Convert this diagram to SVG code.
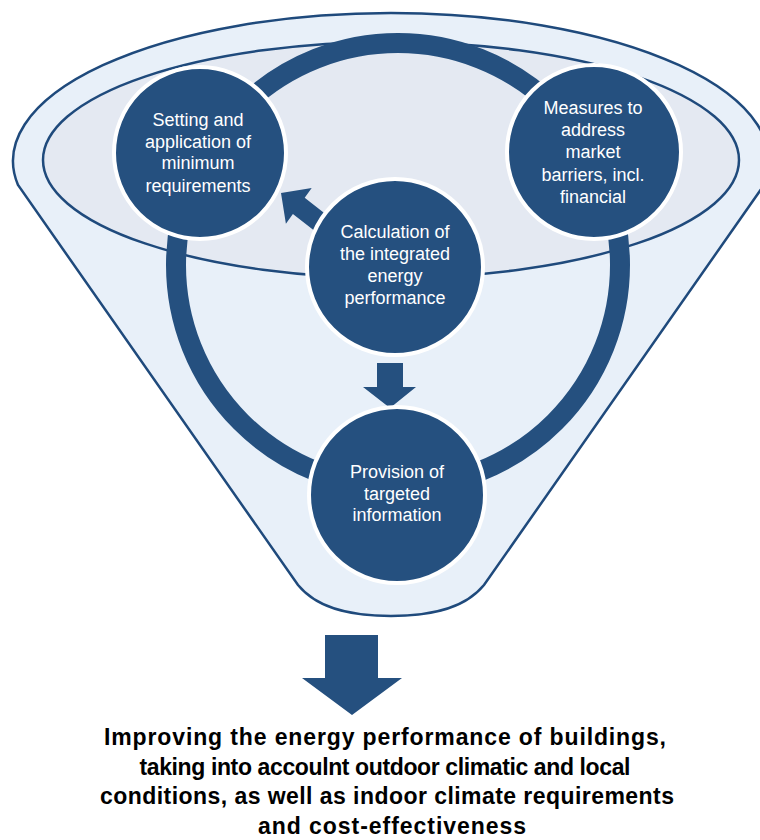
<svg xmlns="http://www.w3.org/2000/svg" width="760" height="840" viewBox="0 0 760 840">
<style>
.node{fill:#25507f;stroke:#ffffff;stroke-width:4}
.lbl{font-family:"Liberation Sans",Arial,sans-serif;font-size:18px;fill:#ffffff;text-anchor:middle}
.out{font-family:"Liberation Sans",Arial,sans-serif;font-size:23px;font-weight:bold;fill:#000000;text-anchor:middle}
.arrow{fill:#25507f}
</style>
<rect width="760" height="840" fill="#ffffff"/>
<g id="funnel">
<path d="M18,185 A378,148 0 1 1 764,185 L484,585 C462,612 422,616 391,616 C360,616 320,612 298,585 Z" fill="#e8f0f9" stroke="#1f4a7c" stroke-width="2.5"/>
<ellipse cx="391" cy="160" rx="348" ry="118" fill="#e4e9f2" stroke="#1f4a7c" stroke-width="2.5"/>
</g>
<g id="connectors">
<circle cx="398" cy="265" r="222" fill="none" stroke="#25507f" stroke-width="20"/>
<polygon class="arrow" points="281,193 311.7,188.1 304.7,197.8 328,216 316,232 292.9,214 285.9,223.7"/>
<polygon class="arrow" points="377,363 403,363 403,387 416,387 390,408 363,387 377,387"/>
<polygon class="arrow" points="325,635 378,635 378,678 402,678 352,715 302,678 325,678"/>
</g>
<g id="node-setting">
<circle class="node" cx="200" cy="153" r="86"/>
<text class="lbl" x="198" y="126">Setting and</text>
<text class="lbl" x="198" y="148">application of</text>
<text class="lbl" x="198" y="169">minimum</text>
<text class="lbl" x="198" y="192">requirements</text>
</g>
<g id="node-measures">
<circle class="node" cx="594" cy="152" r="87"/>
<text class="lbl" x="593" y="114">Measures to</text>
<text class="lbl" x="593" y="136">address</text>
<text class="lbl" x="593" y="158">market</text>
<text class="lbl" x="593" y="181">barriers, incl.</text>
<text class="lbl" x="593" y="203">financial</text>
</g>
<g id="node-calculation">
<circle class="node" cx="395" cy="267" r="88"/>
<text class="lbl" x="395" y="238">Calculation of</text>
<text class="lbl" x="395" y="260">the integrated</text>
<text class="lbl" x="395" y="282">energy</text>
<text class="lbl" x="395" y="304">performance</text>
</g>
<g id="node-provision">
<circle class="node" cx="397" cy="495" r="88"/>
<text class="lbl" x="397" y="478">Provision  of</text>
<text class="lbl" x="397" y="500">targeted</text>
<text class="lbl" x="397" y="521">information</text>
</g>
<g id="node-outcome">
<text class="out" x="385" y="745" textLength="562">Improving the energy performance of buildings,</text>
<text class="out" x="385" y="775" textLength="491">taking into accoulnt outdoor climatic and local</text>
<text class="out" x="387" y="804" textLength="574">conditions, as well as indoor climate requirements</text>
<text class="out" x="392" y="834" textLength="268">and cost-effectiveness</text>
</g>
</svg>
